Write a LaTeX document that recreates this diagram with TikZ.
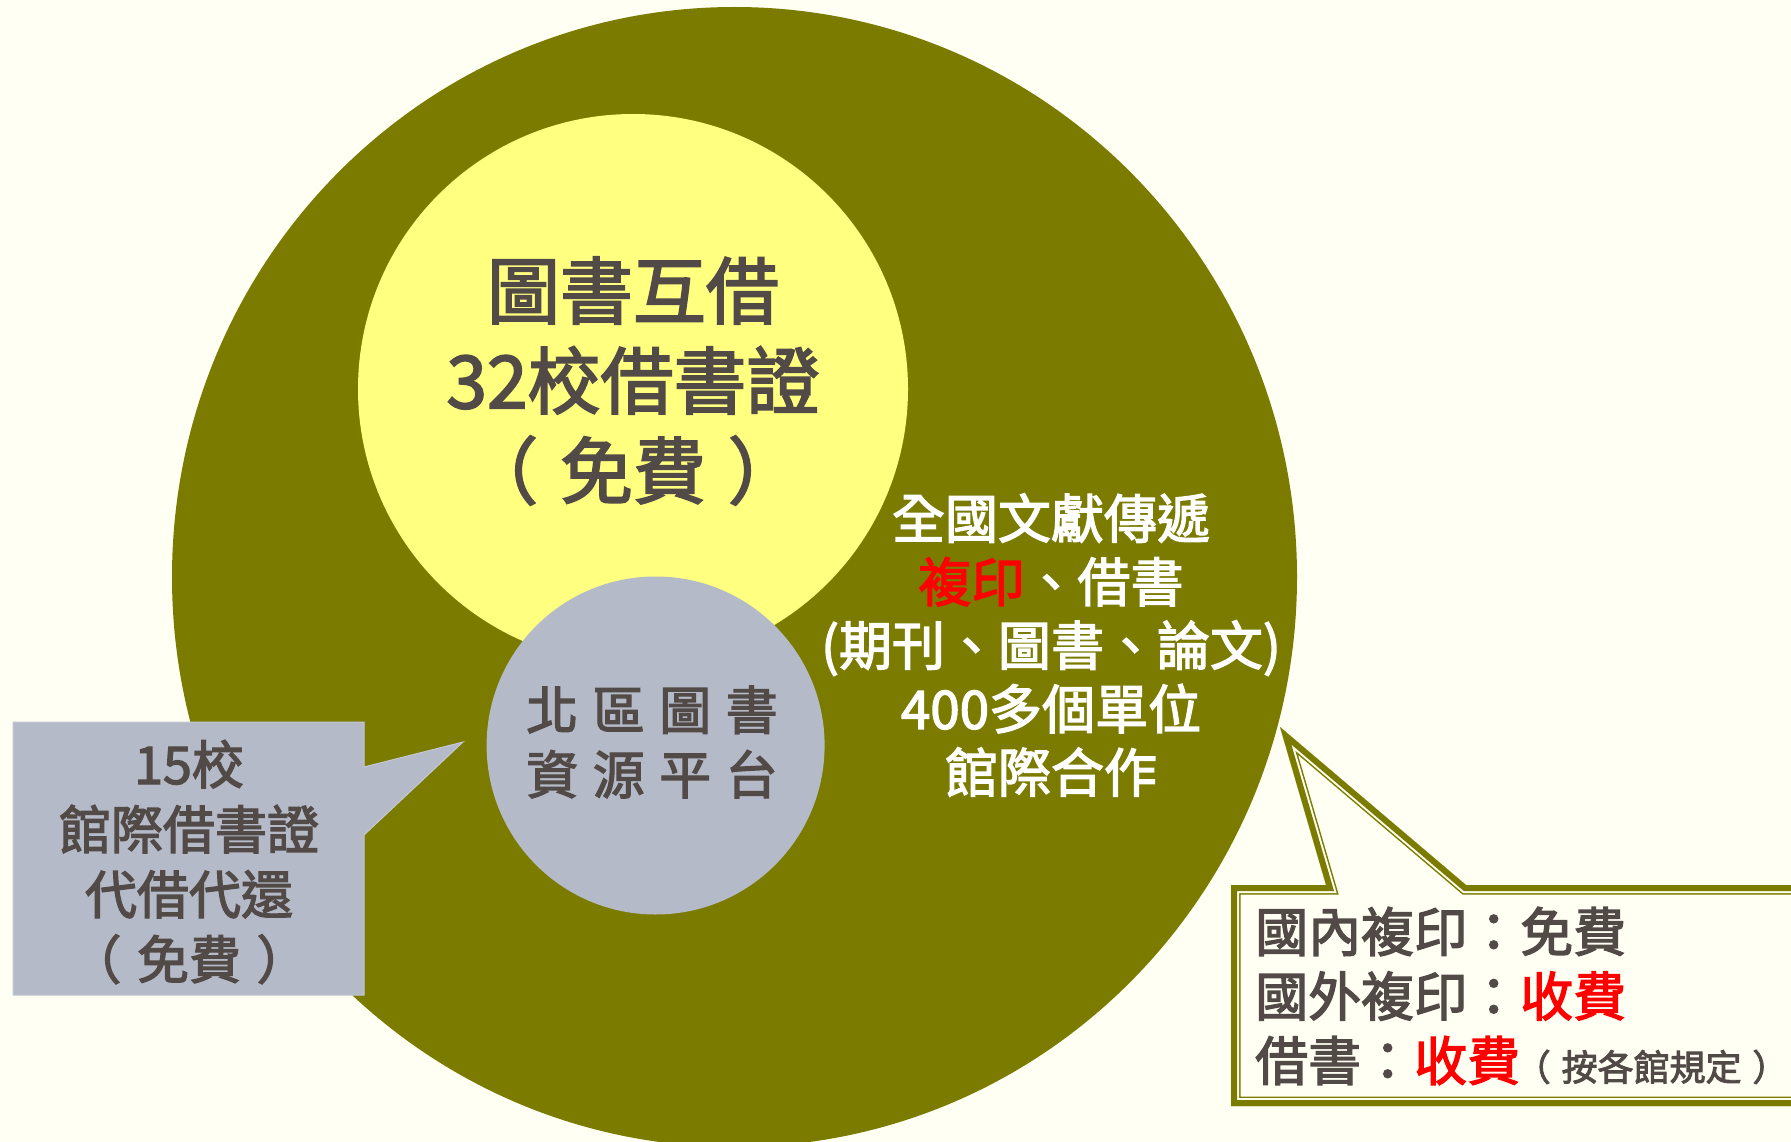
\documentclass[tikz,border=0pt]{standalone}
\usepackage{fontspec}
\setmainfont{Noto Sans CJK TC}[FakeBold=2.5]
\definecolor{bgc}{HTML}{FFFFF3}
\definecolor{olv}{HTML}{7B7B00}
\definecolor{ylw}{HTML}{FFFF80}
\definecolor{gry}{HTML}{B4BAC7}
\definecolor{gryedge}{HTML}{C4C8D2}
\definecolor{txt}{HTML}{524A47}
\definecolor{hot}{HTML}{FF0000}
\newcommand{\gp}{\hspace{14.5pt}}
\newcommand{\pg}{\hspace{0.3em}}
\begin{document}
\begin{tikzpicture}[x=1pt,y=-1pt,
  every node/.style={inner sep=0pt, text=txt},
  blocktext/.style={align=center}]
\useasboundingbox (0,0) rectangle (1791,1142);
\fill[bgc] (0,0) rectangle (1791,1142);
\begin{scope}
\clip (0,0) rectangle (1791,1142);
% big olive disc
\fill[olv] (734.5,577) ellipse [x radius=562.5pt, y radius=570pt];
% yellow disc
\fill[ylw] (633,389) circle [radius=275pt];
% grey disc
\fill[gry] (655.6,745.5) circle [radius=169pt];
% grey callout
\filldraw[fill=gry, draw=gryedge, line width=1pt]
  (13,722) -- (364,722) -- (364,767) -- (463,742) -- (364,835) -- (364,995) -- (13,995) -- cycle;
% right callout with thick-thin border
\begin{scope}
\clip (1231,885) -- (1326,885) -- (1280,727) -- (1466,885) -- (1810,885) -- (1810,1106) -- (1231,1106) -- cycle;
\path[fill=bgc,
  postaction={draw=olv, line width=19pt},
  postaction={draw=bgc, line width=16pt},
  postaction={draw=olv, line width=12pt}]
  (1231,885) -- (1326,885) -- (1280,727) -- (1466,885) -- (1810,885) -- (1810,1106) -- (1231,1106) -- cycle;
\end{scope}
\end{scope}
% texts
\node[blocktext, font=\fontsize{73}{90}\selectfont] (yt) at (633,381)
  {圖書互借\\32校借書證\\（\pg 免費\pg ）};
\node[blocktext, font=\fontsize{52}{64.5}\selectfont] (gt) at (652,742)
  {北\gp 區\gp 圖\gp 書\\資\gp 源\gp 平\gp 台};
\node[blocktext, font=\fontsize{53}{63.5}\selectfont, text=white] (ot) at (1051,645)
  {全國文獻傳遞\\{\color{hot}複印}、借書\\(期刊、圖書、論文)\\400多個單位\\館際合作};
\node[blocktext, font=\fontsize{52}{65}\selectfont] (lt) at (189,862)
  {15校\\館際借書證\\代借代還\\（\pg 免費\pg ）};
\node[align=left, anchor=west, font=\fontsize{53}{64.5}\selectfont] (rt) at (1255,996)
  {國內複印：免費\\國外複印：{\color{hot}收費}\\借書：{\color{hot}收費}{\fontsize{36}{36}\selectfont\hspace{-0.15em}（\pg 按各館規定\pg ）}};
\end{tikzpicture}
\end{document}
